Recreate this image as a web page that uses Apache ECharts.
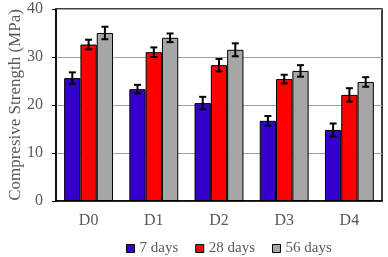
<!DOCTYPE html>
<html><head><meta charset="utf-8">
<script src="https://cdn.jsdelivr.net/npm/echarts@6/dist/echarts.min.js"></script>
<style>html,body{margin:0;padding:0;background:#fff}#c{width:388px;height:257px}</style>
</head><body><div id="c"></div>
<script>
const categories = ['D0', 'D1', 'D2', 'D3', 'D4'];
const seriesNames = ['7 days', '28 days', '56 days'];
const days7 = [25.6, 23.3, 20.4, 16.7, 14.8];
const days28 = [32.6, 31.0, 28.3, 25.4, 22.1];
const days56 = [35.0, 34.0, 31.5, 27.1, 24.8];
const err7 = [1.2, 0.9, 1.3, 1.0, 1.35];
const err28 = [1.0, 1.0, 1.3, 0.9, 1.4];
const err56 = [1.3, 0.9, 1.35, 1.2, 1.0];
const yTicks = [0, 10, 20, 30, 40];

const colors = ['#3300CC', '#FF0000', '#A6A6A6'];
const values = [days7, days28, days56];
const errs = [err7, err28, err56];
const font = '"Liberation Serif", "DejaVu Serif", serif';
const txt = '#595959';
const catGap = 0.25;

const chart = echarts.init(document.getElementById('c'), null, {renderer: 'canvas'});
const series = [];
values.forEach((vals, i) => {
  series.push({
    name: seriesNames[i], type: 'bar', data: vals,
    barGap: '0%', barCategoryGap: (catGap * 100) + '%',
    itemStyle: {color: colors[i], borderColor: '#000', borderWidth: 1},
    z: 2
  });
});
values.forEach((vals, i) => {
  series.push({
    type: 'custom', silent: true, z: 5,
    data: vals.map((v, k) => [k, v - errs[i][k], v + errs[i][k]]),
    renderItem: function (params, api) {
      const k = api.value(0);
      const band = api.size([1, 0])[0];
      const bw = band * (1 - catGap) / 3;
      const lo = api.coord([k, api.value(1)]);
      const hi = api.coord([k, api.value(2)]);
      const x = lo[0] + (i - 1) * bw;
      const cap = 3.5;
      const st = {stroke: '#000', lineWidth: 2};
      return {type: 'group', children: [
        {type: 'line', shape: {x1: x, y1: lo[1], x2: x, y2: hi[1]}, style: st},
        {type: 'line', shape: {x1: x - cap, y1: lo[1], x2: x + cap, y2: lo[1]}, style: st},
        {type: 'line', shape: {x1: x - cap, y1: hi[1], x2: x + cap, y2: hi[1]}, style: st}
      ]};
    }
  });
});

chart.setOption({
  animation: false,
  grid: {left: 56, right: 6, top: 9, bottom: 56, show: true, borderColor: '#000', borderWidth: 1.5, backgroundColor: 'transparent', outerBoundsMode: 'none', containLabel: false},
  legend: {
    data: seriesNames, top: 236, left: 121,
    itemWidth: 8, itemHeight: 8, itemGap: 17, icon: 'rect',
    itemStyle: {borderColor: '#000', borderWidth: 1},
    textStyle: {fontFamily: font, fontSize: 15, color: txt}
  },
  xAxis: {
    type: 'category', data: categories,
    axisLine: {lineStyle: {color: '#000', width: 1.5}},
    axisTick: {alignWithLabel: true, length: 4, lineStyle: {color: '#000'}},
    axisLabel: {fontFamily: font, fontSize: 16, color: txt, margin: 12}
  },
  yAxis: {
    type: 'value', min: yTicks[0], max: yTicks[yTicks.length - 1], interval: 10,
    name: 'Compresive Strength (MPa)', nameLocation: 'middle', nameGap: 32, nameMoveOverlap: false,
    nameTextStyle: {fontFamily: font, fontSize: 17, color: txt},
    axisLine: {show: true, lineStyle: {color: '#000', width: 1.5}},
    axisTick: {show: true, length: 4, lineStyle: {color: '#000'}},
    axisLabel: {fontFamily: font, fontSize: 16, color: txt, margin: 13},
    splitLine: {lineStyle: {color: '#A0A0A0', width: 1}}
  },
  series: series
});
</script></body></html>
